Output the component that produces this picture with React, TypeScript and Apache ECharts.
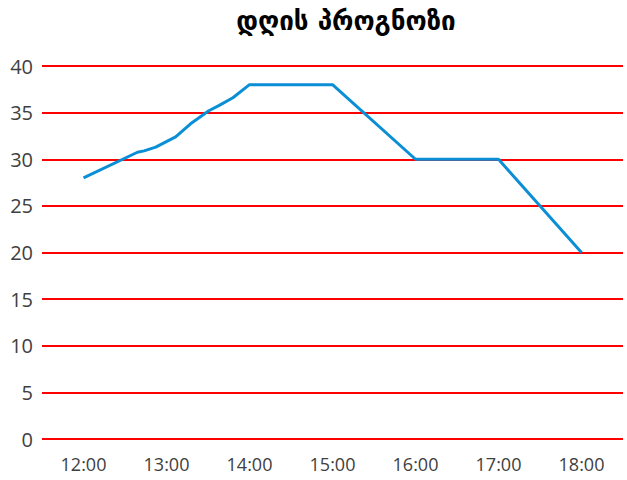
import React, { useEffect, useRef } from "react";
import * as echarts from "echarts";

const titleText = "დღის პროგნოზი";
const hourTicks = [12, 13, 14, 15, 16, 17, 18];
const times = [12, 12.65, 12.73, 12.87, 13.11, 13.29, 13.51, 13.63, 13.8, 14, 15, 16, 17, 18];
const temps = [28, 30.75, 30.9, 31.3, 32.4, 33.8, 35.2, 35.75, 36.6, 38, 38, 30, 30, 20];

export default function App() {
  const ref = useRef<HTMLDivElement>(null);
  useEffect(() => {
    if (!ref.current) return;
    const chart = echarts.init(ref.current, null, { renderer: "svg" });
    chart.setOption({
      animation: false,
      backgroundColor: "#ffffff",
      title: {
        text: titleText,
        left: 341,
        top: 3,
        textAlign: "center",
        textStyle: {
          fontFamily: "DejaVu Sans",
          fontWeight: "bold",
          fontSize: 26,
          color: "#000000",
        },
      },
      grid: { left: 42, right: 4, top: 66, bottom: 41, containLabel: false },
      xAxis: {
        type: "value",
        min: 11.5,
        max: 18.5,
        axisLine: { show: false },
        axisTick: { show: false },
        splitLine: { show: false },
        axisLabel: {
          customValues: hourTicks,
          formatter: (v: number) => `${v}:00`,
          fontFamily: "Open Sans",
          fontSize: 18,
          color: "#404040",
          margin: 16,
        },
      },
      yAxis: {
        type: "value",
        min: 0,
        max: 40,
        interval: 5,
        axisLine: { show: false },
        axisTick: { show: false },
        splitLine: { show: true, lineStyle: { color: "#ff0000", width: 2 } },
        axisLabel: {
          fontFamily: "Open Sans",
          fontSize: 20,
          color: "#404040",
          margin: 9,
        },
      },
      series: [
        {
          type: "line",
          data: times.map((t, i) => [t, temps[i]]),
          showSymbol: false,
          symbol: "none",
          lineStyle: { color: "#0a8fd6", width: 3 },
        },
      ],
    });
    return () => chart.dispose();
  }, []);
  return (
    <div
      ref={ref}
      style={{ position: "fixed", left: 0, top: 0, width: 627, height: 480 }}
    />
  );
}
